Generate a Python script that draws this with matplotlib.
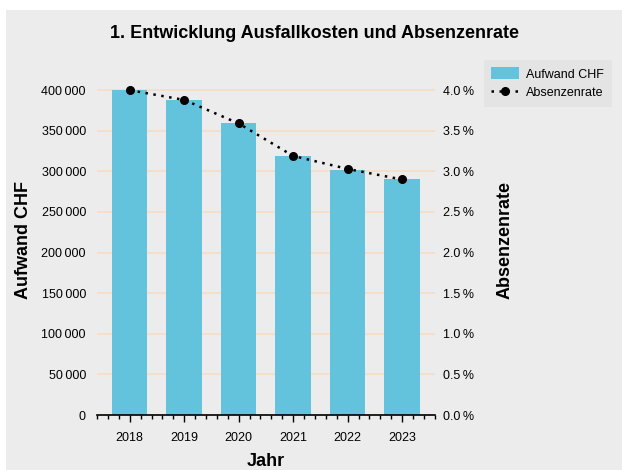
#!/usr/bin/env python3
import matplotlib
matplotlib.use("Agg")
import matplotlib.pyplot as plt
from matplotlib.patches import Rectangle
from matplotlib.ticker import FuncFormatter, MultipleLocator

years = [2018, 2019, 2020, 2021, 2022, 2023]
aufwand_chf = [400000, 388000, 359500, 319000, 302000, 290000]
absenzenrate = [4.00, 3.88, 3.59, 3.19, 3.03, 2.90]

BG = "#ececec"
BAR = "#64c3dc"
GRID = "#f8dcc4"

plt.rcParams["font.family"] = ["Liberation Sans", "DejaVu Sans"]

fig = plt.figure(figsize=(6.22, 4.7), dpi=100, facecolor="white")
# grey panel, with a thin white strip on the left and top like the original
fig.patches.append(Rectangle((6 / 622, 0), 1, 1 - 10 / 470, transform=fig.transFigure,
                             facecolor=BG, edgecolor="none", zorder=-10))

ax = fig.add_axes([0.156, 0.117, 0.543, 0.743], facecolor=BG)
ax2 = ax.twinx()

ax.bar(years, aufwand_chf, width=0.65, color=BAR, label="Aufwand CHF", zorder=2)
ax2.plot(years, absenzenrate, color="black", linestyle=(0, (1, 2.2)), linewidth=1.8,
         marker="o", markersize=5.5, label="Absenzenrate", zorder=3)

ax.set_xlim(2017.4, 2023.6)
ax.set_ylim(0, 430000)
ax2.set_ylim(0, 4.3)

ax.set_yticks(range(0, 400001, 50000))
ax2.set_yticks([i * 0.5 for i in range(9)])
ax.yaxis.set_major_formatter(FuncFormatter(
    lambda v, p: "0" if v == 0 else f"{int(v) // 1000}\u2009{int(v) % 1000:03d}"))
ax2.yaxis.set_major_formatter(FuncFormatter(lambda v, p: f"{v:.1f}\u2009%"))

ax.set_xticks(years)
ax.xaxis.set_minor_locator(MultipleLocator(0.2))
ax.tick_params(axis="x", which="major", length=5, width=1, labelsize=9, pad=7)
ax.tick_params(axis="x", which="minor", length=3, width=1)
ax.tick_params(axis="y", length=0, labelsize=9, pad=8)
ax2.tick_params(axis="y", length=0, labelsize=9, pad=6)

ax.grid(axis="y", color=GRID, linewidth=1.2, zorder=0)
ax.set_axisbelow(True)
for a in (ax, ax2):
    for s in ("top", "left", "right"):
        a.spines[s].set_visible(False)
ax2.spines["bottom"].set_visible(False)
ax.spines["bottom"].set_linewidth(1.2)

ax.set_xlabel("Jahr", fontsize=13, fontweight="bold", labelpad=7)
ax.set_ylabel("Aufwand CHF", fontsize=13, fontweight="bold", labelpad=7)
ax2.set_ylabel("Absenzenrate", fontsize=13, fontweight="bold", labelpad=16)

fig.suptitle("1. Entwicklung Ausfallkosten und Absenzenrate", fontsize=13,
             fontweight="bold", x=0.505, y=0.947)

h1, l1 = ax.get_legend_handles_labels()
h2, l2 = ax2.get_legend_handles_labels()
leg = fig.legend(h1 + h2, l1 + l2, loc="upper left", bbox_to_anchor=(0.768, 0.886),
                 fontsize=9, frameon=True, fancybox=False, handlelength=2.2,
                 handletextpad=0.6, handleheight=1.1, borderpad=0.6, labelspacing=0.45)
leg.get_frame().set_facecolor("#e2e2e2")
leg.get_frame().set_edgecolor("none")

fig.savefig("out.png", dpi=100, facecolor="white")
